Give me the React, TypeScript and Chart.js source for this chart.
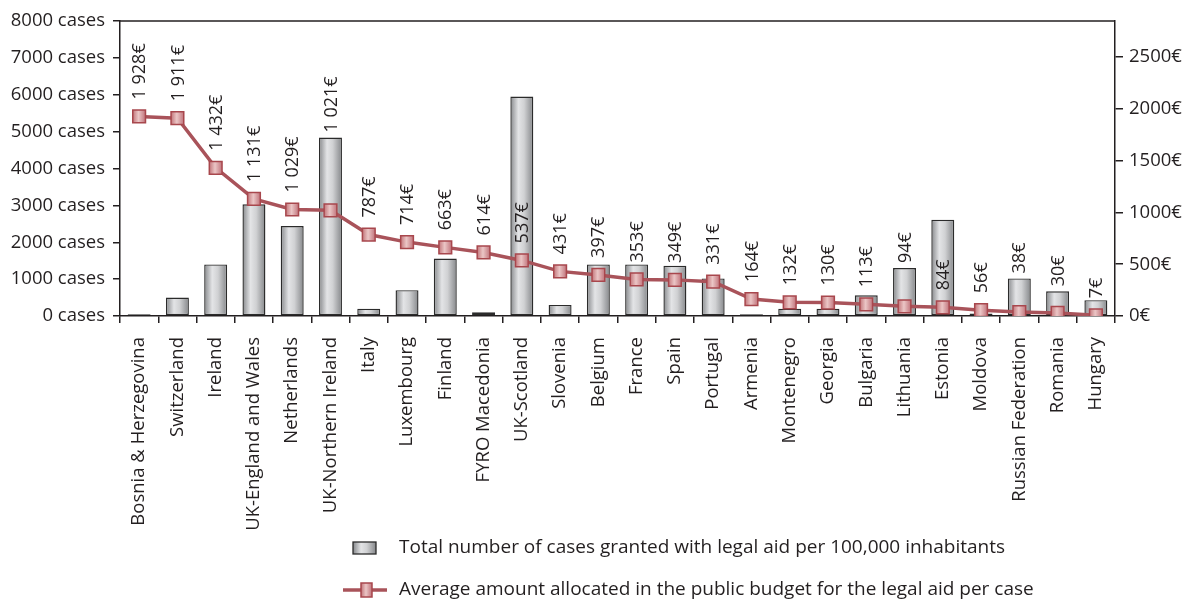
import { useEffect, useRef } from "react";
import { Chart, registerables } from "chart.js";

Chart.register(...registerables);

const countries = [
  "Bosnia & Herzegovina",
  "Switzerland",
  "Ireland",
  "UK-England and Wales",
  "Netherlands",
  "UK-Northern Ireland",
  "Italy",
  "Luxembourg",
  "Finland",
  "FYRO Macedonia",
  "UK-Scotland",
  "Slovenia",
  "Belgium",
  "France",
  "Spain",
  "Portugal",
  "Armenia",
  "Montenegro",
  "Georgia",
  "Bulgaria",
  "Lithuania",
  "Estonia",
  "Moldova",
  "Russian Federation",
  "Romania",
  "Hungary",
];

const casesPer100k = [
  50, 500, 1400, 3030, 2440, 4840, 200, 700, 1560, 100, 5950, 300, 1400, 1400,
  1360, 1020, 50, 200, 200, 560, 1300, 2610, 70, 1020, 670, 430,
];

const avgAmountPerCase = [
  1928, 1911, 1432, 1131, 1029, 1021, 787, 714, 663, 614, 537, 431, 397, 353,
  349, 331, 164, 132, 130, 113, 94, 84, 56, 38, 30, 7,
];

const casesTicks = [0, 1000, 2000, 3000, 4000, 5000, 6000, 7000, 8000];
const amountTicks = [0, 500, 1000, 1500, 2000, 2500];

const casesLabel =
  "Total number of cases granted with legal aid per 100,000 inhabitants";
const amountLabel =
  "Average amount allocated in the public budget for the legal aid per case";

const FONT_FAMILY = "'Open Sans', 'Noto Sans', sans-serif";
const AXIS_SIZE = 18.5;
const VALUE_SIZE = 18;
const LEGEND_SIZE = 19;
const TEXT = "#231f20";
const LINE = "#a9535a";
const MARKER_EDGE = "#a8474d";
const BAR_EDGE = "#2b2b2b";
const BAR_PCT = 0.6;

function euro(v: number): string {
  const s =
    v >= 1000
      ? `${Math.floor(v / 1000)} ${String(v % 1000).padStart(3, "0")}`
      : String(v);
  return s + "€";
}

function barGradient(ctx: CanvasRenderingContext2D, x0: number, x1: number) {
  const g = ctx.createLinearGradient(x0, 0, x1, 0);
  g.addColorStop(0, "#86888b");
  g.addColorStop(0.35, "#e3e4e6");
  g.addColorStop(0.6, "#d0d1d3");
  g.addColorStop(1, "#85878a");
  return g;
}

function markerGradient(ctx: CanvasRenderingContext2D, x0: number, x1: number) {
  const g = ctx.createLinearGradient(x0, 0, x1, 0);
  g.addColorStop(0, "#c27479");
  g.addColorStop(0.45, "#ebc6c6");
  g.addColorStop(1, "#c0727a");
  return g;
}

// rotated value labels above each point of the amount line; a label that
// would only partly run into a bar is lifted above that bar instead
const valueLabels = {
  id: "valueLabels",
  afterDatasetsDraw(chart: any) {
    const points = chart.getDatasetMeta(1).data;
    const bars = chart.getDatasetMeta(0).data;
    const ctx = chart.ctx as CanvasRenderingContext2D;
    ctx.save();
    ctx.font = `${VALUE_SIZE}px ${FONT_FAMILY}`;
    ctx.fillStyle = TEXT;
    ctx.textAlign = "left";
    ctx.textBaseline = "middle";
    points.forEach((pt: any, i: number) => {
      let base = pt.y - 17;
      const barTop = bars[i]?.y;
      if (Number.isFinite(barTop) && barTop < base && base - barTop < 65) {
        base = barTop - 5;
      }
      ctx.save();
      ctx.translate(pt.x + 1, base);
      ctx.rotate(-Math.PI / 2);
      ctx.fillText(euro(avgAmountPerCase[i]), 0, 0);
      ctx.restore();
    });
    ctx.restore();
  },
};

// top edge of the plot frame
const frameTop = {
  id: "frameTop",
  beforeDatasetsDraw(chart: any) {
    const { ctx, chartArea } = chart;
    ctx.save();
    ctx.strokeStyle = TEXT;
    ctx.lineWidth = 1.5;
    ctx.beginPath();
    ctx.moveTo(chartArea.left, chartArea.top);
    ctx.lineTo(chartArea.right, chartArea.top);
    ctx.stroke();
    ctx.restore();
  },
};

// stacked legend under the category labels
const stackedLegend = {
  id: "stackedLegend",
  afterDraw(chart: any) {
    const ctx = chart.ctx as CanvasRenderingContext2D;
    const ds = chart.data.datasets;
    const textX = 399;
    const row1 = 548;
    const row2 = 590;
    ctx.save();
    ctx.font = `${LEGEND_SIZE}px ${FONT_FAMILY}`;
    ctx.textAlign = "left";
    ctx.textBaseline = "middle";

    // bar swatch
    ctx.fillStyle = barGradient(ctx, 353, 376);
    ctx.fillRect(353, row1 - 6, 23, 12);
    ctx.strokeStyle = BAR_EDGE;
    ctx.lineWidth = 1.3;
    ctx.strokeRect(353, row1 - 6, 23, 12);
    ctx.fillStyle = TEXT;
    ctx.fillText(ds[0].label, textX, row1);

    // line swatch
    ctx.strokeStyle = LINE;
    ctx.lineWidth = 3.5;
    ctx.beginPath();
    ctx.moveTo(343, row2);
    ctx.lineTo(387, row2);
    ctx.stroke();
    ctx.fillStyle = markerGradient(ctx, 361, 372);
    ctx.fillRect(361, row2 - 7, 11, 14);
    ctx.strokeStyle = MARKER_EDGE;
    ctx.lineWidth = 1.5;
    ctx.strokeRect(361, row2 - 7, 11, 14);
    ctx.fillStyle = TEXT;
    ctx.fillText(ds[1].label, textX, row2);
    ctx.restore();
  },
};

function categoryCenter(c: any): number | null {
  const xs = c.chart.scales?.x;
  if (!xs || c.dataIndex === undefined) return null;
  const cx = xs.getPixelForValue(c.dataIndex);
  const w = xs.width;
  if (!Number.isFinite(cx) || !Number.isFinite(w) || w <= 0) return null;
  return cx;
}

export default function App() {
  const canvasRef = useRef<HTMLCanvasElement | null>(null);

  useEffect(() => {
    document.body.style.margin = "0";
    const canvas = canvasRef.current;
    if (!canvas) return;

    const font = { family: FONT_FAMILY, size: AXIS_SIZE };

    const chart = new Chart(canvas, {
      type: "bar",
      data: {
        labels: countries,
        datasets: [
          {
            type: "bar",
            label: casesLabel,
            data: casesPer100k,
            yAxisID: "y",
            order: 2,
            barPercentage: BAR_PCT,
            categoryPercentage: 1,
            borderColor: BAR_EDGE,
            borderWidth: 1.4,
            borderSkipped: false,
            backgroundColor: (c: any) => {
              const cx = categoryCenter(c);
              if (cx === null) return "#c8c9cb";
              const w = (c.chart.scales.x.width / countries.length) * BAR_PCT;
              return barGradient(c.chart.ctx, cx - w / 2, cx + w / 2);
            },
          } as any,
          {
            type: "line",
            label: amountLabel,
            data: avgAmountPerCase,
            yAxisID: "y1",
            order: 1,
            borderColor: LINE,
            borderWidth: 3.5,
            pointStyle: "rect",
            pointRadius: 9,
            pointBorderWidth: 1.5,
            pointBorderColor: MARKER_EDGE,
            pointBackgroundColor: (c: any) => {
              const cx = categoryCenter(c);
              if (cx === null) return "#dba6a8";
              return markerGradient(c.chart.ctx, cx - 6.5, cx + 6.5);
            },
            tension: 0,
          } as any,
        ],
      },
      options: {
        responsive: false,
        animation: false,
        layout: { padding: { top: 21, left: 0, right: 0, bottom: 0 } },
        plugins: {
          legend: { display: false },
          tooltip: { enabled: false },
        },
        scales: {
          x: {
            offset: true,
            afterFit: (s: any) => {
              s.height = 284;
            },
            grid: {
              offset: true,
              drawOnChartArea: false,
              drawTicks: true,
              tickLength: 7,
              color: TEXT,
              lineWidth: 1.5,
            },
            border: { display: true, color: TEXT, width: 1.5 },
            ticks: {
              autoSkip: false,
              minRotation: 90,
              maxRotation: 90,
              padding: 14,
              color: TEXT,
              font,
            },
          },
          y: {
            position: "left",
            min: 0,
            max: 8000,
            afterFit: (s: any) => {
              s.width = 120;
            },
            afterBuildTicks: (s: any) => {
              s.ticks = casesTicks.map((v) => ({ value: v }));
            },
            grid: {
              drawOnChartArea: false,
              drawTicks: true,
              tickLength: 7,
              color: TEXT,
              lineWidth: 1.5,
            },
            border: { display: true, color: TEXT, width: 1.5 },
            ticks: {
              padding: 8,
              color: TEXT,
              font,
              callback: (v: any) => `${v} cases`,
            },
          },
          y1: {
            position: "right",
            min: 0,
            max: 2850,
            afterFit: (s: any) => {
              s.width = 75;
            },
            afterBuildTicks: (s: any) => {
              s.ticks = amountTicks.map((v) => ({ value: v }));
            },
            grid: {
              drawOnChartArea: false,
              drawTicks: true,
              tickLength: 8,
              color: TEXT,
              lineWidth: 1.5,
            },
            border: { display: true, color: TEXT, width: 1.5 },
            ticks: {
              padding: 6,
              color: TEXT,
              font,
              callback: (v: any) => `${v}€`,
            },
          },
        },
      } as any,
      plugins: [frameTop, valueLabels, stackedLegend],
    });

    return () => chart.destroy();
  }, []);

  return (
    <div style={{ width: 1190, height: 600, background: "#ffffff" }}>
      <canvas ref={canvasRef} width={1190} height={600} />
    </div>
  );
}
